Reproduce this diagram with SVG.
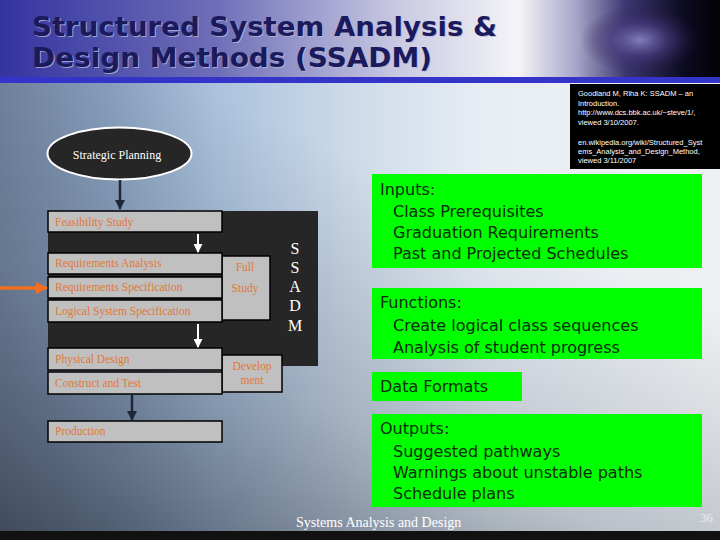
<svg xmlns="http://www.w3.org/2000/svg" width="720" height="540" viewBox="0 0 720 540">
<defs>
<linearGradient id="hdr" x1="0" y1="0" x2="1" y2="0">
<stop offset="0" stop-color="#3434a0"/>
<stop offset="0.3" stop-color="#6e6eb8"/>
<stop offset="0.55" stop-color="#c8c8e2"/>
<stop offset="0.72" stop-color="#f4f4f8"/>
<stop offset="0.8" stop-color="#a8a6c8"/>
<stop offset="0.87" stop-color="#3c3670"/>
<stop offset="0.95" stop-color="#0c0a20"/>
<stop offset="1" stop-color="#020208"/>
</linearGradient>
<radialGradient id="eye" cx="0.5" cy="0.5" r="0.5">
<stop offset="0" stop-color="#8a88c8" stop-opacity="0.9"/>
<stop offset="0.5" stop-color="#4a3a80" stop-opacity="0.6"/>
<stop offset="1" stop-color="#2a2050" stop-opacity="0"/>
</radialGradient>
<linearGradient id="bg" x1="0" y1="0" x2="1" y2="0">
<stop offset="0" stop-color="#7284a0"/>
<stop offset="0.15" stop-color="#88a0be"/>
<stop offset="0.3" stop-color="#aac2dc"/>
<stop offset="0.5" stop-color="#d0dcea"/>
<stop offset="0.68" stop-color="#e8eef4"/>
<stop offset="1" stop-color="#eef0f2"/>
</linearGradient>
<linearGradient id="shade" x1="0" y1="1" x2="0.55" y2="0.2">
<stop offset="0" stop-color="#303846" stop-opacity="0.75"/>
<stop offset="0.5" stop-color="#4a5668" stop-opacity="0.3"/>
<stop offset="1" stop-color="#4a5668" stop-opacity="0"/>
</linearGradient>
<marker id="mDark" viewBox="0 0 10 10" refX="9" refY="5" markerWidth="4" markerHeight="4" orient="auto" markerUnits="strokeWidth">
<path d="M0,0 L10,5 L0,10 z" fill="#1e2838"/>
</marker>
<marker id="mWhite" viewBox="0 0 10 10" refX="9" refY="5" markerWidth="4.5" markerHeight="4.5" orient="auto" markerUnits="strokeWidth">
<path d="M0,0 L10,5 L0,10 z" fill="#ffffff"/>
</marker>
<marker id="mOrange" viewBox="0 0 10 10" refX="9" refY="5" markerWidth="3.5" markerHeight="3.5" orient="auto" markerUnits="strokeWidth">
<path d="M0,0 L10,5 L0,10 z" fill="#f07020"/>
</marker>
</defs>
<style>
.title{font-family:"DejaVu Sans","Liberation Sans",sans-serif;font-weight:bold;font-size:26px;fill:#1a1a5c}
.tshadow{font-family:"DejaVu Sans","Liberation Sans",sans-serif;font-weight:bold;font-size:26px;fill:#b8b8d8;fill-opacity:0.8}
.cite{font-family:"Liberation Sans",Arial,sans-serif;font-size:7.5px;fill:#ffffff}
.box{fill:#c0c0c0;stroke:#000;stroke-width:1.5}
.btxt{font-family:"Liberation Serif","Times New Roman",serif;font-size:11.5px;fill:#e07838}
.wtxt{font-family:"Liberation Serif","Times New Roman",serif;fill:#ffffff}
.green{fill:#00ff00}
.gtxt{font-family:"DejaVu Sans",Verdana,sans-serif;font-size:16px;fill:#0a2c0a}
</style>
<!-- background -->
<rect x="0" y="0" width="720" height="78" fill="url(#hdr)"/>
<ellipse cx="640" cy="40" rx="60" ry="34" fill="url(#eye)"/>
<rect x="0" y="83" width="720" height="448" fill="url(#bg)"/>
<rect x="0" y="83" width="720" height="448" fill="url(#shade)"/>
<rect x="0" y="77" width="720" height="6" fill="#3434c8"/>
<rect x="0" y="531" width="720" height="9" fill="#111111"/>
<!-- title -->
<g id="title">
<text class="tshadow" x="33" y="37" textLength="465" lengthAdjust="spacingAndGlyphs">Structured System Analysis &amp;</text>
<text class="title" x="32" y="36" textLength="465" lengthAdjust="spacingAndGlyphs">Structured System Analysis &amp;</text>
<text class="tshadow" x="33" y="68" textLength="400" lengthAdjust="spacingAndGlyphs">Design Methods (SSADM)</text>
<text class="title" x="32" y="67" textLength="400" lengthAdjust="spacingAndGlyphs">Design Methods (SSADM)</text>
</g>
<!-- citation -->
<g id="citation">
<rect x="570" y="84" width="150" height="85" fill="#000000"/>
<text class="cite" x="578" y="96">Goodland M, Riha K: SSADM – an</text>
<text class="cite" x="578" y="106">Introduction.</text>
<text class="cite" x="578" y="115">http://www.dcs.bbk.ac.uk/~steve/1/,</text>
<text class="cite" x="578" y="125">viewed 3/10/2007.</text>
<text class="cite" x="578" y="145">en.wikipedia.org/wiki/Structured_Syst</text>
<text class="cite" x="578" y="154">ems_Analysis_and_Design_Method,</text>
<text class="cite" x="578" y="163">viewed 3/11/2007</text>
</g>
<!-- SSADM panel -->
<g id="ssadm">
<rect x="48" y="211" width="270" height="155" fill="#262626"/>
<text class="wtxt" font-size="16" text-anchor="middle" x="295" y="254">S</text>
<text class="wtxt" font-size="16" text-anchor="middle" x="295" y="273">S</text>
<text class="wtxt" font-size="16" text-anchor="middle" x="295" y="292">A</text>
<text class="wtxt" font-size="16" text-anchor="middle" x="295" y="311">D</text>
<text class="wtxt" font-size="16" text-anchor="middle" x="295" y="331">M</text>
</g>
<g id="strategic">
<ellipse cx="119.5" cy="153.5" rx="72" ry="26" fill="#262626" stroke="#ffffff" stroke-width="2"/>
<text class="wtxt" font-size="12" text-anchor="middle" x="117" y="159">Strategic Planning</text>
</g>
<g id="feasibility">
<rect class="box" x="48" y="211" width="174" height="21"/>
<text class="btxt" x="55" y="226">Feasibility Study</text>
</g>
<g id="fullstudy">
<rect class="box" x="222" y="256" width="48" height="64"/>
<text class="btxt" text-anchor="middle" x="245" y="271">Full</text>
<text class="btxt" text-anchor="middle" x="245" y="292">Study</text>
</g>
<g id="reqanalysis">
<rect class="box" x="48" y="253" width="174" height="21"/>
<text class="btxt" x="55" y="267">Requirements Analysis</text>
</g>
<g id="reqspec">
<rect class="box" x="48" y="277" width="174" height="21"/>
<text class="btxt" x="55" y="291">Requirements Specification</text>
</g>
<g id="logical">
<rect class="box" x="48" y="300" width="174" height="22"/>
<text class="btxt" x="55" y="315">Logical System Specification</text>
</g>
<g id="development">
<rect class="box" x="222" y="355" width="60" height="37"/>
<text class="btxt" text-anchor="middle" x="252" y="370">Develop</text>
<text class="btxt" text-anchor="middle" x="252" y="384">ment</text>
</g>
<g id="physical">
<rect class="box" x="48" y="348" width="174" height="22"/>
<text class="btxt" x="55" y="363">Physical Design</text>
</g>
<g id="construct">
<rect class="box" x="48" y="372" width="174" height="22"/>
<text class="btxt" x="55" y="387">Construct and Test</text>
</g>
<g id="production">
<rect class="box" x="48" y="421" width="174" height="21"/>
<text class="btxt" x="55" y="435">Production</text>
</g>
<!-- connectors -->
<g id="connectors" fill="none">
<line x1="120" y1="180" x2="120" y2="209" stroke="#1e2838" stroke-width="2.5" marker-end="url(#mDark)"/>
<line x1="198" y1="234" x2="198" y2="252" stroke="#ffffff" stroke-width="2" marker-end="url(#mWhite)"/>
<line x1="198" y1="324" x2="198" y2="347" stroke="#ffffff" stroke-width="2" marker-end="url(#mWhite)"/>
<line x1="132" y1="395" x2="132" y2="420" stroke="#1e2838" stroke-width="2.5" marker-end="url(#mDark)"/>
<line x1="0" y1="288" x2="47" y2="288" stroke="#f07020" stroke-width="3.5" marker-end="url(#mOrange)"/>
</g>
<!-- green boxes -->
<g id="inputs">
<rect class="green" x="372" y="174" width="330" height="94"/>
<text class="gtxt" x="380" y="195">Inputs:</text>
<text class="gtxt" x="393" y="217">Class Prerequisites</text>
<text class="gtxt" x="393" y="238">Graduation Requirements</text>
<text class="gtxt" x="393" y="259">Past and Projected Schedules</text>
</g>
<g id="functions">
<rect class="green" x="372" y="288" width="330" height="71"/>
<text class="gtxt" x="380" y="308">Functions:</text>
<text class="gtxt" x="393" y="331">Create logical class sequences</text>
<text class="gtxt" x="393" y="353">Analysis of student progress</text>
</g>
<g id="dataformats">
<rect class="green" x="372" y="372" width="150" height="29"/>
<text class="gtxt" x="380" y="392">Data Formats</text>
</g>
<g id="outputs">
<rect class="green" x="372" y="414" width="330" height="93"/>
<text class="gtxt" x="380" y="434">Outputs:</text>
<text class="gtxt" x="393" y="457">Suggested pathways</text>
<text class="gtxt" x="393" y="478">Warnings about unstable paths</text>
<text class="gtxt" x="393" y="499">Schedule plans</text>
</g>
<!-- footer -->
<g id="footer">
<text class="wtxt" font-size="14" x="296" y="527">Systems Analysis and Design</text>
<text class="wtxt" font-size="13" x="700" y="522" fill-opacity="0.7">36</text>
</g>
</svg>
